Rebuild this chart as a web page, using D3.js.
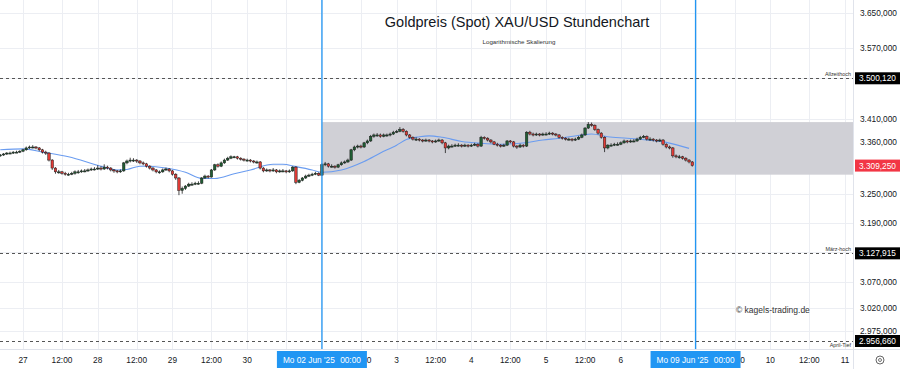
<!DOCTYPE html>
<html>
<head>
    <title>Goldpreis XAU/USD Stundenchart</title>
    <meta charset="utf-8" />
    <script type="text/javascript" src="https://cdn.jsdelivr.net/npm/d3@7"></script>
    <style>
        body { margin: 0; background: #fff; }
        svg { display: block; font-family: "Liberation Sans", Arial, sans-serif; }
    </style>
</head>
<body>
<script type="text/javascript">

    //Width and height
    var w = 900;
    var h = 369;
    var plotRight = 853;
    var plotBottom = 349;

    //Hourly candles, 26 May ~17:00 to 06 Jun 22:00 (open = previous close)
    var firstOpen = 3330;
    var closes = [3332,3334,3336,3336,3338,3338,3340,3343,3347,3349,
                  3349,3347,3343,3338,3336,3321,3304,3296,3296,3293,
                  3291,3291,3293,3296,3296,3298,3298,3300,3302,3302,
                  3304,3302,3306,3304,3300,3298,3296,3298,3315,3319,
                  3321,3321,3319,3315,3313,3308,3304,3300,3296,3296,
                  3300,3302,3298,3291,3283,3257,3261,3266,3270,3270,
                  3272,3272,3283,3287,3285,3300,3311,3308,3315,3321,
                  3325,3328,3328,3325,3323,3321,3321,3319,3317,3317,
                  3304,3298,3300,3298,3300,3296,3298,3298,3296,3298,
                  3306,3274,3278,3283,3287,3289,3291,3293,3289,3311,
                  3313,3308,3308,3306,3311,3315,3317,3321,3343,3349,
                  3351,3349,3358,3362,3372,3375,3375,3372,3375,3375,
                  3377,3381,3383,3387,3383,3375,3370,3366,3366,3364,
                  3362,3364,3362,3360,3362,3364,3358,3347,3351,3351,
                  3353,3353,3351,3353,3351,3353,3355,3351,3370,3368,
                  3364,3360,3355,3353,3351,3353,3362,3360,3351,3349,
                  3353,3351,3381,3377,3375,3377,3375,3377,3377,3379,
                  3377,3375,3370,3368,3366,3366,3364,3366,3370,3375,
                  3390,3398,3396,3387,3379,3370,3347,3353,3353,3355,
                  3355,3358,3362,3360,3362,3362,3366,3370,3372,3366,
                  3366,3364,3362,3364,3355,3349,3347,3330,3328,3328,
                  3325,3321,3317,3309.25];
    var highs = [3334,3336,3338,3339,3340,3341,3342,3345,3350,3352,
                 3353,3351,3349,3345,3341,3338,3323,3306,3300,3298,
                 3296,3294,3296,3299,3300,3301,3302,3303,3305,3306,
                 3310,3308,3312,3309,3306,3302,3300,3301,3317,3322,
                 3326,3325,3323,3321,3318,3315,3310,3306,3302,3299,
                 3303,3305,3304,3300,3293,3285,3265,3268,3273,3274,
                 3275,3276,3285,3290,3289,3302,3313,3314,3318,3324,
                 3328,3331,3330,3330,3327,3325,3324,3323,3321,3320,
                 3319,3306,3303,3302,3304,3302,3301,3302,3300,3301,
                 3308,3308,3281,3285,3290,3292,3294,3296,3295,3314,
                 3317,3315,3312,3310,3313,3318,3320,3324,3345,3352,
                 3354,3354,3360,3365,3375,3378,3379,3378,3378,3378,
                 3380,3384,3386,3392,3390,3385,3377,3372,3370,3368,
                 3366,3367,3366,3364,3365,3367,3366,3360,3354,3355,
                 3356,3357,3355,3356,3355,3356,3358,3357,3373,3372,
                 3370,3366,3362,3358,3355,3356,3364,3364,3362,3353,
                 3356,3355,3383,3384,3380,3380,3379,3380,3381,3382,
                 3381,3379,3377,3372,3370,3369,3368,3369,3373,3378,
                 3392,3403,3402,3398,3389,3381,3372,3355,3357,3358,
                 3359,3361,3365,3364,3365,3366,3369,3373,3375,3374,
                 3370,3368,3366,3367,3366,3357,3352,3349,3333,3332,
                 3330,3327,3323,3319];
    var lows = [3328,3330,3332,3334,3334,3336,3336,3338,3341,3345,
                3346,3344,3340,3335,3332,3318,3300,3292,3292,3290,
                3288,3288,3289,3290,3292,3294,3295,3296,3298,3299,
                3300,3299,3300,3301,3297,3294,3293,3294,3296,3312,
                3316,3317,3315,3312,3310,3305,3301,3297,3293,3292,
                3294,3298,3295,3288,3279,3247,3250,3258,3264,3267,
                3268,3269,3270,3281,3282,3284,3298,3305,3306,3313,
                3319,3323,3325,3322,3320,3318,3318,3316,3314,3313,
                3301,3295,3296,3295,3296,3293,3294,3295,3293,3294,
                3296,3270,3272,3276,3281,3285,3287,3289,3287,3288,
                3308,3305,3305,3303,3304,3309,3313,3315,3319,3340,
                3346,3346,3347,3355,3360,3369,3371,3369,3370,3371,
                3372,3375,3379,3381,3380,3372,3367,3363,3362,3361,
                3359,3360,3359,3357,3358,3360,3355,3336,3344,3348,
                3349,3350,3348,3349,3348,3349,3351,3348,3349,3365,
                3361,3357,3353,3350,3348,3349,3351,3357,3348,3345,
                3347,3348,3349,3374,3372,3373,3372,3373,3374,3375,
                3374,3372,3367,3365,3363,3363,3361,3362,3364,3368,
                3373,3388,3393,3384,3376,3367,3338,3344,3350,3351,
                3352,3353,3356,3357,3358,3359,3360,3364,3368,3363,
                3363,3361,3359,3360,3352,3346,3344,3326,3325,3324,
                3322,3318,3314,3307];

    //Moving average, read at some bar positions
    var maIdx = [0,7,13,21,31,36,39,43,46,51,57,62,66,72,77,84,87,91,96,99,
                 105,112,117,122,125,129,132,136,142,148,154,160,167,172,179,182,187,193,199,205,212];
    var maVal = [3343,3345,3338,3328,3308,3300,3301,3308,3308,3304,3295,3282,3282,3292,3300,3312,3312,3307,3300,3295,
                 3300,3318,3336,3353,3365,3371,3373,3370,3361,3357,3355,3357,3364,3368,3375,3377,3371,3368,3364,3359,3346];

    //Axis labels
    var days = ["27", "28", "29", "30", "2", "3", "4", "5", "6", "9", "10", "11"];
    var yTicks = [3650, 3570, 3500, 3410, 3360, 3310, 3250, 3190, 3130, 3070, 3020, 2975];

    //Marked levels
    var levels = [3500.12, 3127.915, 2956.66];
    var levelNames = ["Allzeithoch", "März-hoch", "April-Tief"];
    var lastPrice = 3309.25;
    var rangeLow = 3290;
    var rangeHigh = 3403;
    var markBars = [99, 214];
    var markLabels = ["Mo 02 Jun '25", "Mo 09 Jun '25"];

    var de = d3.formatLocale({ decimal: ",", thousands: ".", grouping: [3], currency: ["", "$"] });
    var fmt = de.format(",.3f");

    //Scales (bar index -> x, log price -> y)
    var xScale = d3.scaleLinear().domain([7, 260]).range([23, 845]);
    var yScale = d3.scaleLog().domain([2956.66, 3650]).range([341, 13]);

    var candles = closes.map(function (c, i) {
        return { i: i, o: i === 0 ? firstOpen : closes[i - 1], c: c, hi: highs[i], lo: lows[i] };
    });

    var xTicks = [];
    days.forEach(function (d, k) {
        xTicks.push({ i: 7 + k * 23, label: d });
        xTicks.push({ i: 7 + k * 23 + 12, label: "12:00" });
    });
    xTicks = xTicks.filter(function (t) { return xScale(t.i) < plotRight - 4; });

    //Labels that sit fully under the blue date boxes are not drawn
    var axisTicks = xTicks.filter(function (t) {
        var half = t.label.length > 2 ? 10.4 : 5;
        return markBars.every(function (m) { return Math.abs(xScale(t.i) - xScale(m)) + half > 48; });
    });

    //Create SVG element
    var svg = d3.select("body")
                .append("svg")
                .attr("width", w)
                .attr("height", h);

    svg.append("rect").attr("width", w).attr("height", h).attr("fill", "#ffffff");

    svg.append("clipPath").attr("id", "plot")
       .append("rect").attr("x", 0).attr("y", 0).attr("width", plotRight).attr("height", plotBottom);

    //Grid
    svg.append("g").selectAll("line")
       .data(xTicks)
       .enter()
       .append("line")
       .attr("x1", function (d) { return Math.round(xScale(d.i)) + 0.5; })
       .attr("x2", function (d) { return Math.round(xScale(d.i)) + 0.5; })
       .attr("y1", 0)
       .attr("y2", plotBottom)
       .attr("stroke", "#eceef3");

    svg.append("g").selectAll("line")
       .data(yTicks)
       .enter()
       .append("line")
       .attr("x1", 0)
       .attr("x2", plotRight)
       .attr("y1", function (d) { return Math.round(yScale(d)) + 0.5; })
       .attr("y2", function (d) { return Math.round(yScale(d)) + 0.5; })
       .attr("stroke", "#eceef3");

    //Range box
    svg.append("rect")
       .attr("x", xScale(markBars[0]))
       .attr("y", yScale(rangeHigh))
       .attr("width", plotRight - xScale(markBars[0]) + 1)
       .attr("height", yScale(rangeLow) - yScale(rangeHigh))
       .attr("fill", "#d0d0d6");

    //Level lines
    svg.append("g").selectAll("line")
       .data(levels)
       .enter()
       .append("line")
       .attr("x1", 0)
       .attr("x2", plotRight)
       .attr("y1", function (d) { return Math.round(yScale(d)) + 0.5; })
       .attr("y2", function (d) { return Math.round(yScale(d)) + 0.5; })
       .attr("stroke", "#555")
       .attr("stroke-dasharray", "3,3");

    svg.append("g").selectAll("text")
       .data(levels)
       .enter()
       .append("text")
       .attr("x", plotRight - 2)
       .attr("y", function (d, i) { return yScale(d) + (i === 2 ? 6 : -2.5); })
       .attr("text-anchor", "end")
       .attr("font-size", "5.4px")
       .attr("fill", "#333")
       .text(function (d, i) { return levelNames[i]; });

    //Moving average
    var ma = maIdx.map(function (d, k) { return [d, maVal[k]]; });
    svg.append("path")
       .datum(ma)
       .attr("clip-path", "url(#plot)")
       .attr("fill", "none")
       .attr("stroke", "#6a9cf0")
       .attr("stroke-width", 1.1)
       .attr("d", d3.line()
            .x(function (d) { return xScale(d[0]); })
            .y(function (d) { return yScale(d[1]); })
            .curve(d3.curveMonotoneX));

    //Candles
    var bw = 2.5;
    var cg = svg.append("g").attr("clip-path", "url(#plot)");

    cg.selectAll("line")
      .data(candles)
      .enter()
      .append("line")
      .attr("x1", function (d) { return xScale(d.i); })
      .attr("x2", function (d) { return xScale(d.i); })
      .attr("y1", function (d) { return yScale(d.hi); })
      .attr("y2", function (d) { return yScale(d.lo); })
      .attr("stroke", "#1c1c1c")
      .attr("stroke-width", 0.8);

    cg.selectAll("rect")
      .data(candles)
      .enter()
      .append("rect")
      .attr("x", function (d) { return xScale(d.i) - bw / 2; })
      .attr("y", function (d) { return yScale(Math.max(d.o, d.c)); })
      .attr("width", bw)
      .attr("height", function (d) {
          return Math.max(1, Math.abs(yScale(d.o) - yScale(d.c)));
      })
      .attr("fill", function (d) { return d.c >= d.o ? "#1f5e33" : "#e23b36"; })
      .attr("stroke", "#1c1c1c")
      .attr("stroke-width", 0.5);

    //Blue markers
    svg.append("g").selectAll("line")
       .data(markBars)
       .enter()
       .append("line")
       .attr("x1", function (d) { return xScale(d); })
       .attr("x2", function (d) { return xScale(d); })
       .attr("y1", 0)
       .attr("y2", plotBottom)
       .attr("stroke", "#2196f3")
       .attr("stroke-width", 1.3);

    //Title
    svg.append("text")
       .attr("x", 517)
       .attr("y", 27)
       .attr("text-anchor", "middle")
       .attr("font-size", "14.5px")
       .attr("fill", "#131722")
       .text("Goldpreis (Spot) XAU/USD Stundenchart");

    svg.append("text")
       .attr("x", 519)
       .attr("y", 44)
       .attr("text-anchor", "middle")
       .attr("font-size", "6.2px")
       .attr("fill", "#333")
       .text("Logarithmische Skalierung");

    svg.append("text")
       .attr("x", 736)
       .attr("y", 313)
       .attr("font-size", "8.5px")
       .attr("fill", "#333")
       .text("© kagels-trading.de");

    //Axis borders
    svg.append("line")
       .attr("x1", 0).attr("x2", w)
       .attr("y1", plotBottom + 0.5).attr("y2", plotBottom + 0.5)
       .attr("stroke", "#e0e3eb");
    svg.append("line")
       .attr("x1", plotRight + 0.5).attr("x2", plotRight + 0.5)
       .attr("y1", 0).attr("y2", h)
       .attr("stroke", "#e0e3eb");

    //Price axis
    var markYs = levels.concat([lastPrice]).map(function (d) { return yScale(d); });
    svg.append("g").selectAll("text")
       .data(yTicks.filter(function (t) {
           return markYs.every(function (my) { return Math.abs(yScale(t) - my) > 9; });
       }))
       .enter()
       .append("text")
       .attr("x", 860)
       .attr("y", function (d) { return yScale(d) + 3; })
       .attr("font-size", "8.3px")
       .attr("fill", "#131722")
       .text(function (d) { return fmt(d); });

    var tags = levels.map(function (d) { return { v: d, bg: "#000000" }; });
    tags.push({ v: lastPrice, bg: "#f23645" });

    var tg = svg.append("g").selectAll("g")
       .data(tags)
       .enter()
       .append("g");

    tg.append("rect")
      .attr("x", 855)
      .attr("y", function (d) { return yScale(d.v) - 6; })
      .attr("width", 45)
      .attr("height", 12)
      .attr("fill", function (d) { return d.bg; });

    tg.append("text")
      .attr("x", 859)
      .attr("y", function (d) { return yScale(d.v) + 3; })
      .attr("font-size", "8.3px")
      .attr("fill", "#ffffff")
      .text(function (d) { return fmt(d.v); });

    //Time axis
    svg.append("g").selectAll("text")
       .data(axisTicks)
       .enter()
       .append("text")
       .attr("x", function (d) { return xScale(d.i); })
       .attr("y", 363)
       .attr("text-anchor", "middle")
       .attr("font-size", "8.3px")
       .attr("fill", "#131722")
       .text(function (d) { return d.label; });

    var mg = svg.append("g").selectAll("g")
       .data(markBars)
       .enter()
       .append("g");

    mg.append("rect")
      .attr("x", function (d) { return xScale(d) - 45; })
      .attr("y", 351)
      .attr("width", 90)
      .attr("height", 17)
      .attr("fill", "#2196f3");

    mg.append("text")
      .attr("x", function (d) { return xScale(d) - 39; })
      .attr("y", 363)
      .attr("font-size", "8.3px")
      .attr("fill", "#ffffff")
      .text(function (d, i) { return markLabels[i]; });

    mg.append("text")
      .attr("x", function (d) { return xScale(d) + 39; })
      .attr("y", 363)
      .attr("text-anchor", "end")
      .attr("font-size", "8.3px")
      .attr("fill", "#ffffff")
      .text("00:00");

    //Settings icon
    svg.append("circle").attr("cx", 880).attr("cy", 360).attr("r", 4)
       .attr("fill", "none").attr("stroke", "#555").attr("stroke-width", 0.9);
    svg.append("circle").attr("cx", 880).attr("cy", 360).attr("r", 1.5)
       .attr("fill", "none").attr("stroke", "#555").attr("stroke-width", 0.8);

</script>
</body>
</html>
